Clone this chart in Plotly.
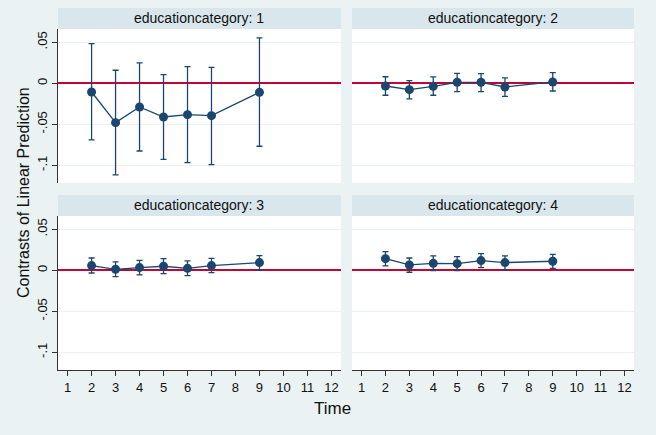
import plotly.graph_objects as go

# Time periods with estimates
time = [2, 3, 4, 5, 6, 7, 9]

# educationcategory 1..4: contrast estimate, lower CI, upper CI
est1 = [-0.0106, -0.048, -0.0289, -0.0411, -0.0383, -0.0395, -0.011]
lo1 = [-0.069, -0.1118, -0.0826, -0.0927, -0.0968, -0.0992, -0.0768]
hi1 = [0.0483, 0.0159, 0.0248, 0.0105, 0.0203, 0.0195, 0.0553]

est2 = [-0.0033, -0.0078, -0.0037, 0.0012, 0.0012, -0.0045, 0.0016]
lo2 = [-0.0146, -0.0191, -0.0146, -0.0102, -0.0102, -0.0159, -0.0094]
hi2 = [0.008, 0.0032, 0.0077, 0.0122, 0.0118, 0.0065, 0.013]

est3 = [0.0057, 0.0012, 0.0033, 0.0049, 0.0024, 0.0057, 0.0094]
lo3 = [-0.0033, -0.0077, -0.0057, -0.004, -0.0065, -0.0028, 0.0]
hi3 = [0.015, 0.0102, 0.0122, 0.0142, 0.0114, 0.0146, 0.0179]

est4 = [0.0142, 0.0065, 0.0085, 0.0081, 0.0118, 0.0094, 0.011]
lo4 = [0.0053, -0.0024, -0.0004, -0.0004, 0.0033, 0.0004, 0.0024]
hi4 = [0.0228, 0.015, 0.0175, 0.0167, 0.0204, 0.0175, 0.0195]

panels = [
    ("educationcategory: 1", est1, lo1, hi1),
    ("educationcategory: 2", est2, lo2, hi2),
    ("educationcategory: 3", est3, lo3, hi3),
    ("educationcategory: 4", est4, lo4, hi4),
]

x_ticks = list(range(1, 13))
y_ticks = [0.05, 0, -0.05, -0.1]
y_labels = [".05", "0", "-.05", "-.1"]

BG = "#EAF2F3"
HEAD = "#D9E6EB"
NAVY = "#1A476F"
RED = "#C10534"

W, H = 656, 435
# panel boxes in pixels (left, right, top, bottom)
cols = [(58, 341), (352, 634)]
rows = [(29, 183), (216, 370)]

fig = go.Figure()
for i, (title, est, lo, hi) in enumerate(panels):
    r, c = divmod(i, 2)
    n = i + 1
    xa = "x" if n == 1 else f"x{n}"
    ya = "y" if n == 1 else f"y{n}"
    fig.add_trace(go.Scatter(
        x=time, y=est, mode="lines+markers",
        line=dict(color=NAVY, width=1.3),
        marker=dict(color=NAVY, size=9),
        error_y=dict(type="data", symmetric=False,
                     array=[h - e for h, e in zip(hi, est)],
                     arrayminus=[e - l for e, l in zip(est, lo)],
                     color=NAVY, thickness=1.3, width=3),
        xaxis=xa, yaxis=ya, showlegend=False,
    ))
    x0, x1 = cols[c]
    top, bot = rows[r]
    xdom = [x0 / W, x1 / W]
    ydom = [(H - bot) / H, (H - top) / H]
    bottom_row = r == 1
    left_col = c == 0
    fig.layout[("xaxis" if n == 1 else f"xaxis{n}")] = dict(
        domain=xdom, anchor=ya, range=[0.6, 12.4],
        tickvals=x_ticks, showticklabels=bottom_row,
        ticks="outside" if bottom_row else "", ticklen=5, tickcolor="#333",
        showline=bottom_row, linecolor="#333", linewidth=1,
        showgrid=False, zeroline=False,
        tickfont=dict(size=13, color="#111"),
    )
    # red zero line doubles as the reference line
    fig.layout[("yaxis" if n == 1 else f"yaxis{n}")] = dict(
        domain=ydom, anchor=xa, range=[-0.1216, 0.0662],
        tickvals=y_ticks, ticktext=y_labels, showticklabels=left_col,
        ticks="outside" if left_col else "", ticklen=5, tickcolor="#333",
        showline=left_col, linecolor="#333", linewidth=1,
        showgrid=True, gridcolor=BG, gridwidth=1,
        zeroline=True, zerolinecolor=RED, zerolinewidth=1.5,
        tickangle=-90, tickfont=dict(size=13, color="#111"),
    )
    # header strip
    fig.add_shape(type="rect", xref="paper", yref="paper",
                  x0=xdom[0], x1=xdom[1], y0=ydom[1], y1=ydom[1] + 21 / H,
                  fillcolor=HEAD, line_width=0, layer="below")
    fig.add_annotation(text=title, xref="paper", yref="paper",
                       x=(xdom[0] + xdom[1]) / 2, y=ydom[1] + 10.5 / H,
                       showarrow=False, xanchor="center", yanchor="middle",
                       font=dict(size=14, color="#111"))

fig.add_annotation(text="Time", xref="paper", yref="paper",
                   x=333 / W, y=(H - 408) / H, showarrow=False,
                   xanchor="center", yanchor="middle",
                   font=dict(size=17, color="#111"))
fig.add_annotation(text="Contrasts of Linear Prediction", xref="paper", yref="paper",
                   x=23 / W, y=(H - 193) / H, showarrow=False, textangle=-90,
                   xanchor="center", yanchor="middle",
                   font=dict(size=16, color="#111"))

fig.update_layout(
    width=W, height=H,
    margin=dict(l=0, r=0, t=0, b=0),
    paper_bgcolor=BG, plot_bgcolor="white",
    font=dict(family="Liberation Sans, Arial, sans-serif"),
)

fig.write_html("out.html", config={"displayModeBar": False},
               post_script="document.body.style.margin='0';")
